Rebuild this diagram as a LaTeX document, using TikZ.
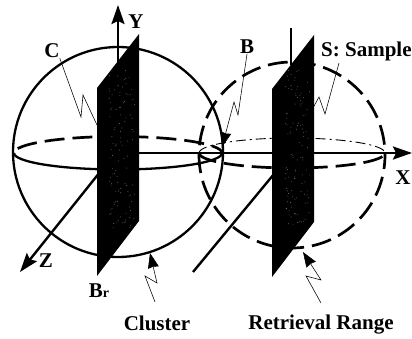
\documentclass[tikz,border=0pt]{standalone}
\usepackage{fontspec}
\setmainfont{Liberation Serif}
\usetikzlibrary{arrows.meta,positioning}
\tikzset{
  axisline/.style={draw=black,line width=2.4pt},
  axistip/.style={-{Stealth[length=19pt,width=13pt,inset=3pt]}},
  solidarc/.style={draw=black,line width=2.3pt},
  dasharc/.style={draw=black,line width=2.7pt,dash pattern=on 20pt off 8pt},
  backarc/.style={draw=black,line width=0.9pt,dash pattern=on 10pt off 4pt on 2pt off 4pt},
  planefill/.style={fill=black,draw=none},
  leader/.style={draw=black,line width=0.55pt},
  leadertip/.style={-{Stealth[length=15pt,width=11pt,inset=1pt]}},
  lab/.style={font=\bfseries\fontsize{21}{23}\selectfont,inner sep=0pt}
}
\begin{document}
\begin{tikzpicture}[x=1pt,y=-1pt]
  \useasboundingbox (0,0) rectangle (412,339);

  % cluster sphere
  \draw[solidarc] (118,152) circle[radius=105];
  \draw[solidarc] (14,153) arc[start angle=180,end angle=0,x radius=104,y radius=16.5];
  \draw[dasharc,dash phase=22pt] (14,153) arc[start angle=180,end angle=360,x radius=104,y radius=16.5];

  % retrieval sphere
  \draw[dasharc,dash phase=6pt] (292,155) circle[radius=93];
  \draw[dasharc] (199,153) arc[start angle=180,end angle=0,x radius=93,y radius=15];
  \draw[backarc] (199,153) arc[start angle=180,end angle=360,x radius=93,y radius=15];

  % axes
  \coordinate (origin) at (118,153);
  \draw[axisline,axistip] (origin) -- (412,153);
  \draw[axisline,axistip] (118,65) -- (118,5);
  \draw[axisline,axistip] (100,172) -- (20,272);
  \draw[axisline] (291,65) -- (291,28);
  \draw[axisline] (274,174) -- (193,272);

  % planes
  \pgfmathsetseed{7}
  \foreach \x/\top in {97/88, 272/89}{
    \pgfmathsetmacro{\xr}{\x+42}
    \fill[planefill] (\x,\top) -- (\xr,\top-54) -- (\xr,\top+133) -- (\x,\top+188) -- cycle;
    \foreach \i in {1,...,110}{
      \pgfmathsetmacro{\dotx}{\x+12+26*rnd}
      \pgfmathsetmacro{\doty}{\top-20+160*rnd}
      \fill[black!55] (\dotx,\doty) circle[radius=0.45];
    }
  }

  % labels
  \node[lab] (lblC) at (52,51) {C};
  \node[lab] (lblY) at (136,22) {Y};
  \node[lab] (lblB) at (247,47) {B};
  \node[lab,anchor=west] (lblS) at (321,51) {S: Sample};
  \node[lab] (lblX) at (403,178) {X};
  \node[lab] (lblZ) at (46,261) {Z};
  \node[lab] (lblBr) at (99,291) {B\fontsize{14}{16}\selectfont r};
  \node[lab] (lblCluster) at (157,323) {Cluster};
  \node[lab] (lblRange) at (321,325) {Retrieval Range};

  % zigzag leaders
  \draw[leader] (lblC.south east) -- (81,117) -- (83,95) -- (97,125);
  \draw[leader,leadertip] (lblB.south) -- (238,115) -- (234,102) -- (222,147);
  \draw[leader] (339,63) -- (325,114) -- (319,97) -- (313,108);
  \draw[leader,leadertip] (155,302) -- (145,276) -- (157,283) -- (150,253);
  \draw[leader,leadertip] (321,303) -- (306,276) -- (321,280) -- (303,252);
\end{tikzpicture}
\end{document}
